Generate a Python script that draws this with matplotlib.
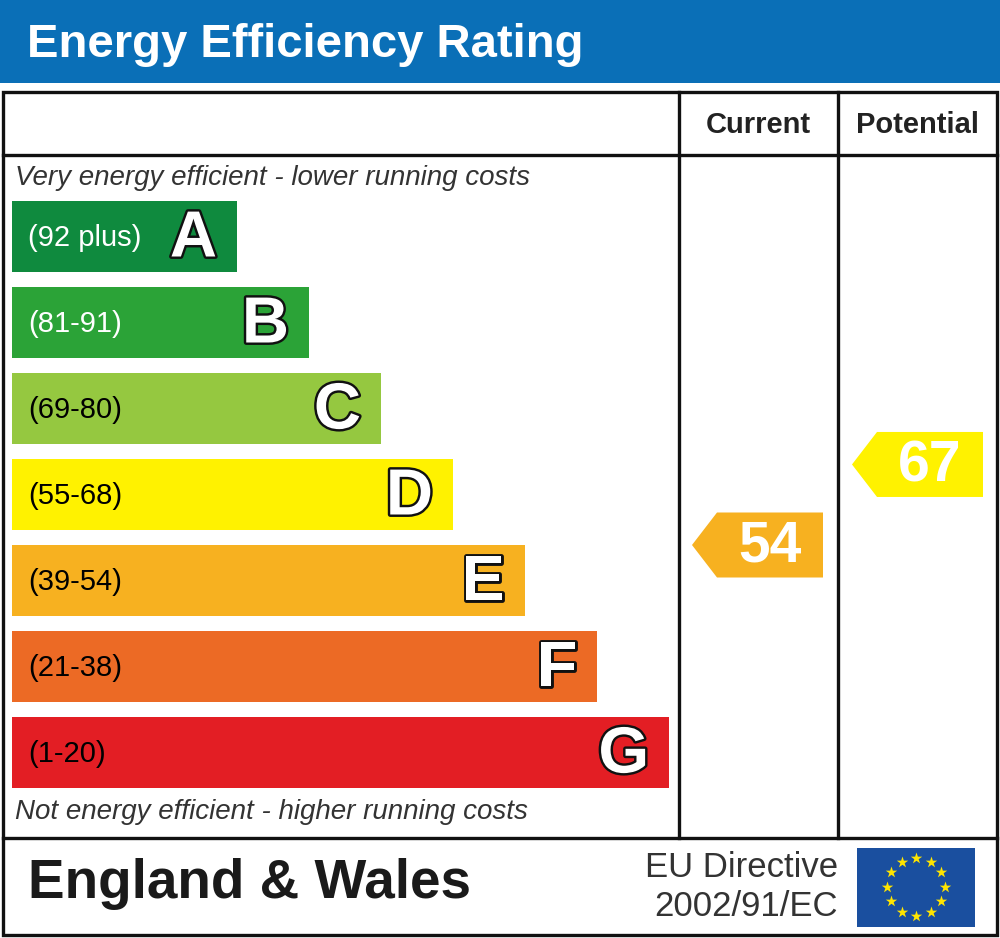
import matplotlib
matplotlib.use("Agg")
import numpy as np
import matplotlib.pyplot as plt
from matplotlib.patches import Polygon, Rectangle
import matplotlib.patheffects as pe

plt.rcParams['font.family'] = ['Liberation Sans', 'DejaVu Sans']

# -- Data --
bands = ['A', 'B', 'C', 'D', 'E', 'F', 'G']
band_labels = ['(92 plus)', '(81-91)', '(69-80)', '(55-68)', '(39-54)', '(21-38)', '(1-20)']
band_min = [92, 81, 69, 55, 39, 21, 1]
band_max = [100, 91, 80, 68, 54, 38, 20]
band_colors = ['#0f8a3e', '#2ba337', '#95c840', '#fff200', '#f7b120', '#ec6a25', '#e31e24']
label_colors = ['white', 'white', 'black', 'black', 'black', 'black', 'black']
current_score = 54
potential_score = 67
title = 'Energy Efficiency Rating'
column_titles = ['Current', 'Potential']
top_caption = 'Very energy efficient - lower running costs'
bottom_caption = 'Not energy efficient - higher running costs'
region = 'England & Wales'
directive = 'EU Directive\n2002/91/EC'

# -- Layout (pixels) --
W, H = 1000, 938
bar_top0, bar_step, bar_h = 201, 86, 71
bar_left, bar_w0, bar_dw = 12, 225, 72
col1, col2, box_l, box_r = 679, 838, 3, 997
box_t, head_b, foot_t, box_b = 92, 155, 838, 935


def band_of(score):
    for i in range(len(bands)):
        if band_min[i] <= score <= band_max[i]:
            return i
    return len(bands) - 1


def score_y(score):
    # position inside the band, top = band max
    i = band_of(score)
    top = bar_top0 + bar_step * i
    frac = (band_max[i] - score) / (band_max[i] - band_min[i])
    return top + frac * bar_h


def arrow(ax, x_tip, score, color):
    yc = score_y(score)
    half, nose, body = 32.5, 25, 106
    pts = [(x_tip, yc), (x_tip + nose, yc - half), (x_tip + nose + body, yc - half),
           (x_tip + nose + body, yc + half), (x_tip + nose, yc + half)]
    ax.add_patch(Polygon(pts, closed=True, facecolor=color, edgecolor='none', zorder=3))
    ax.text(x_tip + nose + body / 2, yc + 2, str(score), color='white', fontsize=41,
            fontweight='bold', ha='center', va='center', zorder=4)


fig = plt.figure(figsize=(W / 100, H / 100), dpi=100)
ax = fig.add_axes([0, 0, 1, 1])
ax.set_xlim(0, W)
ax.set_ylim(H, 0)
ax.axis('off')

# title bar
ax.add_patch(Rectangle((0, 0), W, 83, facecolor='#0a6fb7', edgecolor='none'))
ax.text(27, 45, title, color='white', fontsize=34, fontweight='bold', va='center', ha='left')

# table lines
lw = 2.4
ax.add_patch(Rectangle((box_l, box_t), box_r - box_l, box_b - box_t, fill=False,
                       edgecolor='#111111', linewidth=lw, zorder=5))
ax.plot([box_l, box_r], [head_b, head_b], color='#111111', lw=lw, zorder=5)
ax.plot([box_l, box_r], [foot_t, foot_t], color='#111111', lw=lw, zorder=5)
for cx in (col1, col2):
    ax.plot([cx, cx], [box_t, foot_t], color='#111111', lw=lw, zorder=5)

ax.text((col1 + col2) / 2, 125, column_titles[0], fontsize=21, fontweight='bold',
        color='#222222', ha='center', va='center')
ax.text((col2 + box_r) / 2, 125, column_titles[1], fontsize=21, fontweight='bold',
        color='#222222', ha='center', va='center')

# bands
idx = np.arange(len(bands))
widths = bar_w0 + bar_dw * idx
centers = bar_top0 + bar_step * idx + bar_h / 2
ax.barh(centers, widths, height=bar_h, left=bar_left, color=band_colors, zorder=2)
outline = [pe.withStroke(linewidth=3.5, foreground='#111111')]
for i in idx:
    ax.text(28, centers[i] + 1, band_labels[i], color=label_colors[i], fontsize=21,
            ha='left', va='center', zorder=4)
    ax.text(bar_left + widths[i] - 20, centers[i] + 3, bands[i], color='white',
            fontsize=47, fontweight='bold', ha='right', va='center', zorder=4,
            path_effects=outline)

ax.text(15, 178, top_caption, fontsize=20, style='italic', color='#333333',
        ha='left', va='center')
ax.text(15, 812, bottom_caption, fontsize=20, style='italic', color='#333333',
        ha='left', va='center')

# score arrows
arrow(ax, 692, current_score, band_colors[band_of(current_score)])
arrow(ax, 852, potential_score, band_colors[band_of(potential_score)])

# footer
ax.text(28, 884, region, fontsize=39.5, fontweight='bold', color='#1a1a1a',
        ha='left', va='center')
ax.text(838, 887, directive, fontsize=25, color='#333333', ha='right', va='center',
        linespacing=1.25)

# EU flag
ax.add_patch(Rectangle((857, 848), 118, 79, facecolor='#1a4f9f', edgecolor='none'))
ang = np.linspace(0, 2 * np.pi, 12, endpoint=False)
ax.scatter(916 + 29 * np.cos(ang), 887 + 29 * np.sin(ang), marker='*', s=75,
           color='#ffe500', zorder=3, linewidths=0)

fig.savefig('out.png', dpi=100)
